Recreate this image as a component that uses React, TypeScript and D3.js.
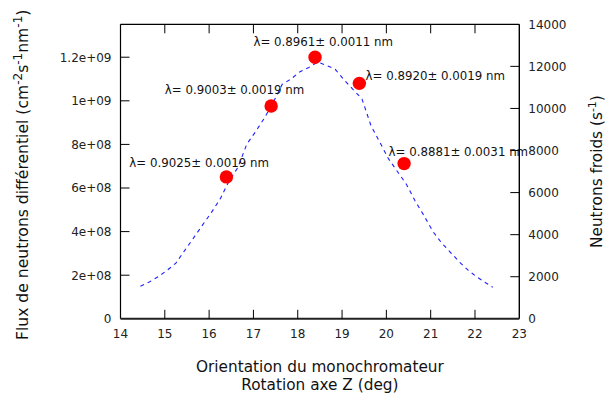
import React from "react";
import * as d3 from "d3";

const W = 605;
const H = 399;

// Measured points: orientation (deg) vs flux (left axis)
const pointX = [16.39, 17.4, 18.39, 19.39, 20.4];
const pointFlux = [0.651e9, 0.976e9, 1.2e9, 1.08e9, 0.712e9];
const pointLabels = [
  "λ= 0.9025± 0.0019 nm",
  "λ= 0.9003± 0.0019 nm",
  "λ= 0.8961± 0.0011 nm",
  "λ= 0.8920± 0.0019 nm",
  "λ= 0.8881± 0.0031 nm",
];
// label anchor positions (data coordinates: deg, flux)
const labelX = [14.2, 15.0, 17.0, 19.53, 20.05];
const labelFlux = [0.695e9, 1.03e9, 1.25e9, 1.097e9, 0.745e9];

// Cold neutrons curve (right axis)
const curveX = [
  14.45, 14.65, 14.85, 15.05, 15.25, 15.45, 15.65, 15.85, 16.05, 16.25, 16.45,
  16.65, 16.85, 17.05, 17.25, 17.45, 17.65, 17.85, 18.05, 18.25, 18.45, 18.65,
  18.85, 19.05, 19.25, 19.45, 19.65, 19.85, 20.05, 20.25, 20.45, 20.65, 20.85,
  21.05, 21.25, 21.45, 21.65, 21.85, 22.05, 22.25, 22.4,
];
const curveN = [
  1550, 1750, 2000, 2300, 2650, 3250, 3850, 4450, 5050, 5700, 6550, 7200, 8300,
  8900, 9550, 10300, 11150, 11400, 11750, 11950, 12200, 12050, 11850, 11350,
  10900, 10450, 9200, 8400, 7600, 7000, 6400, 5600, 4900, 4150, 3600, 3150,
  2700, 2300, 1980, 1700, 1500,
];

const xTicks = [14, 15, 16, 17, 18, 19, 20, 21, 22, 23];
const yLeftTicks = [0, 2e8, 4e8, 6e8, 8e8, 1e9, 1.2e9];
const yLeftTickLabels = ["0", "2e+08", "4e+08", "6e+08", "8e+08", "1e+09", "1.2e+09"];
const yRightTicks = [0, 2000, 4000, 6000, 8000, 10000, 12000, 14000];

const FONT = "DejaVu Sans, Verdana, sans-serif";

export default function App() {
  const left = 120.5;
  const right = 519.3;
  const top = 24.3;
  const bottom = 318.8;

  const x = d3.scaleLinear().domain([14, 23]).range([left, right]);
  const yL = d3.scaleLinear().domain([0, 1.351e9]).range([bottom, top]);
  const yR = d3.scaleLinear().domain([0, 14000]).range([bottom, top]);

  const line = d3
    .line<number>()
    .x((_, i) => x(curveX[i]))
    .y((d) => yR(d));

  const tickLen = 9;

  return (
    <svg width={W} height={H} style={{ position: "absolute", left: 0, top: 0, background: "#fff" }}>
      {/* frame */}
      <line x1={left} x2={right} y1={top} y2={top} stroke="#000" strokeWidth={1.2} />
      <line x1={left} x2={left} y1={top} y2={bottom} stroke="#000" strokeWidth={1.2} />
      <line x1={right} x2={right} y1={top} y2={bottom} stroke="#000" strokeWidth={1.4} />
      <line x1={left} x2={right} y1={bottom} y2={bottom} stroke="#222" strokeWidth={2} />

      {/* x ticks */}
      {xTicks.map((t) => (
        <g key={"x" + t}>
          {t > 14 && t < 23 && (
            <>
              <line x1={x(t)} x2={x(t)} y1={bottom} y2={bottom - tickLen} stroke="#000" strokeWidth={1} />
              <line x1={x(t)} x2={x(t)} y1={top} y2={top + tickLen} stroke="#000" strokeWidth={1} />
            </>
          )}
          <text x={x(t)} y={bottom + 19} fontSize={12} fontFamily={FONT} textAnchor="middle" fill="#222">
            {t}
          </text>
        </g>
      ))}

      {/* left ticks */}
      {yLeftTicks.map((t, i) => (
        <g key={"yl" + t}>
          {t > 0 && (
            <line x1={left} x2={left + tickLen} y1={yL(t)} y2={yL(t)} stroke="#000" strokeWidth={1} />
          )}
          <text x={left - 9} y={yL(t) + 4.3} fontSize={12} fontFamily={FONT} textAnchor="end" fill="#222">
            {yLeftTickLabels[i]}
          </text>
        </g>
      ))}

      {/* right ticks */}
      {yRightTicks.map((t) => (
        <g key={"yr" + t}>
          {t > 0 && t < 14000 && (
            <line x1={right} x2={right - tickLen} y1={yR(t)} y2={yR(t)} stroke="#000" strokeWidth={1} />
          )}
          <text x={right + 9} y={yR(t) + 4.3} fontSize={12} fontFamily={FONT} textAnchor="start" fill="#222">
            {t}
          </text>
        </g>
      ))}

      {/* curve */}
      <path d={line(curveN) || ""} fill="none" stroke="#2020ff" strokeWidth={1.1} strokeDasharray="4,4" />

      {/* points */}
      {pointX.map((px, i) => (
        <circle key={"p" + i} cx={x(px)} cy={yL(pointFlux[i])} r={6.7} fill="#ff0000" />
      ))}

      {/* labels */}
      {pointLabels.map((lab, i) => (
        <text
          key={"l" + i}
          x={x(labelX[i])}
          y={yL(labelFlux[i])}
          fontSize={11.8}
          fontFamily={FONT}
          fill="#111"
        >
          {lab}
        </text>
      ))}

      {/* x title */}
      <text x={(left + right) / 2} y={372} fontSize={15.3} fontFamily={FONT} textAnchor="middle" fill="#111">
        Orientation du monochromateur
      </text>
      <text x={(left + right) / 2} y={390} fontSize={15.3} fontFamily={FONT} textAnchor="middle" fill="#111">
        Rotation axe Z (deg)
      </text>

      {/* left y title */}
      <text
        transform={`translate(28,340) rotate(-90)`}
        fontSize={15.6}
        fontFamily={FONT}
        textAnchor="start"
        fill="#111"
      >
        Flux de neutrons différentiel (cm
        <tspan dy={-6} fontSize={12}>-2</tspan>
        <tspan dy={6}>s</tspan>
        <tspan dy={-6} fontSize={12}>-1</tspan>
        <tspan dy={6}>nm</tspan>
        <tspan dy={-6} fontSize={12}>-1</tspan>
        <tspan dy={6}>)</tspan>
      </text>

      {/* right y title */}
      <text
        transform={`translate(602,${(top + bottom) / 2}) rotate(-90)`}
        fontSize={15.3}
        fontFamily={FONT}
        textAnchor="middle"
        fill="#111"
      >
        Neutrons froids (s
        <tspan dy={-6} fontSize={11}>-1</tspan>
        <tspan dy={6}>)</tspan>
      </text>
    </svg>
  );
}
